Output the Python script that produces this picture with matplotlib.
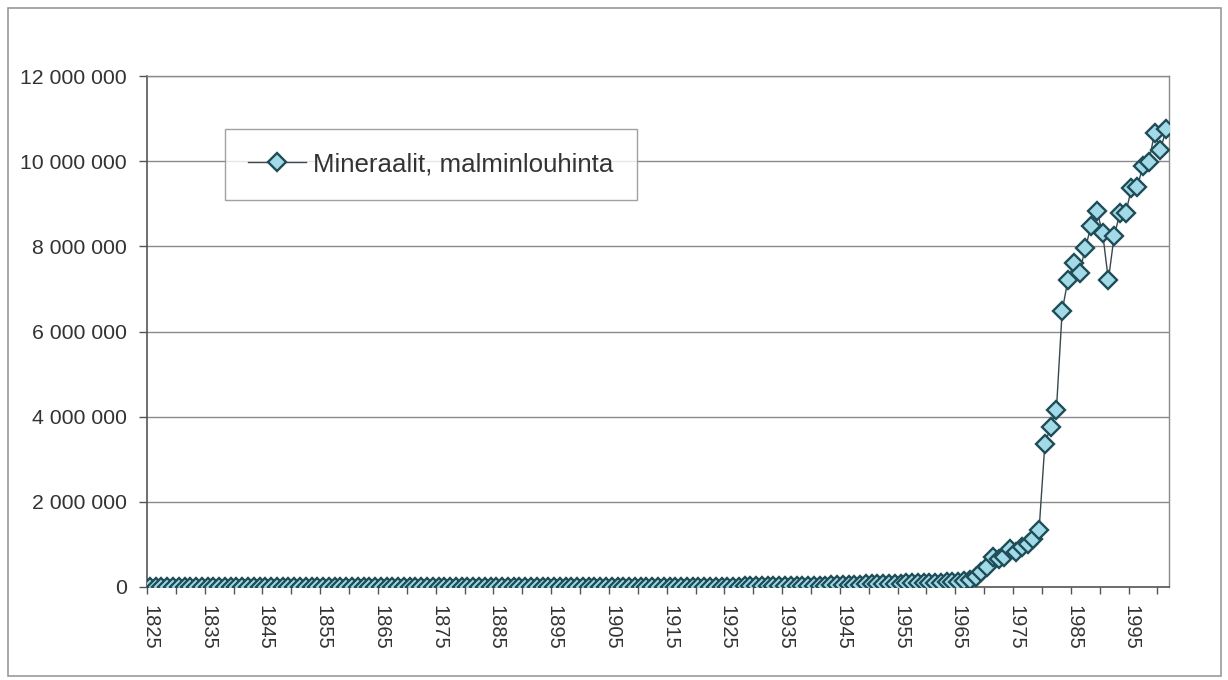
import matplotlib
matplotlib.use("Agg")
import matplotlib.pyplot as plt
from matplotlib.patches import Rectangle
from matplotlib.ticker import FuncFormatter, FixedLocator
import numpy as np

plt.rcParams['font.family'] = ['Liberation Sans', 'DejaVu Sans']

series_name = "Mineraalit, malminlouhinta"
years = list(range(1825, 2002))
values = [
    # 1825-1834
    0, 0, 0, 0, 0, 0, 0, 0, 0, 0,
    # 1835-1844
    0, 0, 0, 0, 0, 0, 0, 0, 0, 0,
    # 1845-1854
    0, 0, 0, 0, 0, 0, 0, 0, 0, 0,
    # 1855-1864
    0, 0, 0, 0, 0, 0, 0, 0, 0, 0,
    # 1865-1874
    0, 0, 0, 0, 0, 0, 0, 0, 0, 0,
    # 1875-1884
    0, 0, 0, 0, 0, 0, 0, 0, 0, 0,
    # 1885-1894
    0, 0, 0, 0, 0, 0, 0, 0, 0, 0,
    # 1895-1904
    0, 0, 0, 0, 0, 1000, 1000, 1000, 2000, 2000,
    # 1905-1914
    2000, 2000, 3000, 3000, 3000, 4000, 4000, 4000, 5000, 5000,
    # 1915-1924
    5000, 5000, 6000, 6000, 6000, 7000, 7000, 8000, 8000, 9000,
    # 1925-1934
    9000, 10000, 11000, 12000, 13000, 14000, 15000, 16000, 18000, 20000,
    # 1935-1944
    22000, 24000, 26000, 28000, 30000, 30000, 32000, 34000, 36000, 38000,
    # 1945-1954
    40000, 45000, 50000, 55000, 60000, 65000, 70000, 72000, 75000, 78000,
    # 1955-1964
    80000, 83000, 86000, 90000, 93000, 96000, 100000, 103000, 106000, 110000,
    # 1965-1974
    115000, 130000, 160000, 240000, 360000, 480000, 700000, 650000, 710000, 890000,
    # 1975-1984
    830000, 930000, 1010000, 1130000, 1340000, 3360000, 3760000, 4160000, 6490000, 7210000,
    # 1985-1994
    7600000, 7380000, 7950000, 8480000, 8840000, 8320000, 7210000, 8240000, 8780000, 8780000,
    # 1995-2001
    9360000, 9390000, 9890000, 9990000, 10650000, 10260000, 10750000,
]
y_ticks = [0, 2000000, 4000000, 6000000, 8000000, 10000000, 12000000]

W, H = 1228, 680
fig = plt.figure(figsize=(W / 100, H / 100), dpi=100)
fig.patch.set_facecolor("white")

# outer frame
fig.patches.append(Rectangle((8 / W, 4 / H), 1213 / W, 668 / H, transform=fig.transFigure,
                             fill=False, edgecolor="#9a9a9a", linewidth=1.2))

ax = fig.add_axes([147 / W, 1 - 587 / H, (1169 - 147) / W, (587 - 76) / H])
n = len(years)
x = np.arange(n)
ax.plot(x, values, color="#3b474c", linewidth=1.0, marker="D", markersize=9.5,
        markerfacecolor="#a3dae8", markeredgecolor="#1e4d58", markeredgewidth=1.7,
        label=series_name, zorder=3)

ax.set_xlim(-0.5, n - 0.5)
ax.set_ylim(0, 12000000)
ax.set_yticks(y_ticks)
ax.yaxis.set_major_formatter(FuncFormatter(lambda v, p: f"{int(v):,}".replace(",", " ")))
ax.grid(axis="y", color="#8a8a8a", linewidth=1.0, zorder=0)
ax.set_axisbelow(True)

# x ticks: marks at category boundaries every 5, labels at category centres every 10
ax.xaxis.set_major_locator(FixedLocator([k - 0.5 for k in range(0, n + 1, 5)]))
ax.xaxis.set_major_formatter(FuncFormatter(lambda v, p: ""))
label_pos = list(range(0, n, 10))
ax.xaxis.set_minor_locator(FixedLocator(label_pos))
ax.set_xticklabels([str(years[i]) for i in label_pos], minor=True)
ax.tick_params(axis="x", which="minor", length=0, labelsize=14.5, rotation=-90,
               pad=13, labelcolor="#333333")
ax.tick_params(axis="x", which="major", length=5, width=1, color="#555555")
ax.tick_params(axis="y", length=6, width=1, color="#555555", labelsize=15.3,
               labelcolor="#333333", pad=8.5)

for side in ["top", "right"]:
    ax.spines[side].set_color("#8a8a8a")
    ax.spines[side].set_linewidth(1.0)
for side in ["left", "bottom"]:
    ax.spines[side].set_color("#555555")
    ax.spines[side].set_linewidth(1.2)

leg = ax.legend(loc="upper left", bbox_to_anchor=((225 - 147) / (1169 - 147), (587 - 129) / (587 - 76)),
                frameon=True, fancybox=False, shadow=False, fontsize=18.6,
                borderpad=0.9, handlelength=2.25, handletextpad=0.27, borderaxespad=0)
leg.get_frame().set_edgecolor("#8a8a8a")
leg.get_frame().set_linewidth(1.0)
for t in leg.get_texts():
    t.set_color("#333333")

fig.savefig("out.png", dpi=100)
